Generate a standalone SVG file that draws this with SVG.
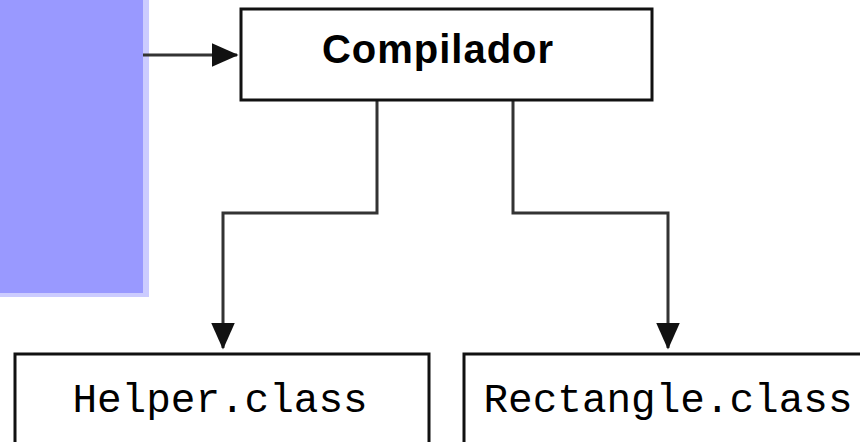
<svg xmlns="http://www.w3.org/2000/svg" width="860" height="442" viewBox="0 0 860 442">
<style>
.box{fill:#ffffff;stroke:#111111;stroke-width:3}
.conn{fill:none;stroke:#333333;stroke-width:3}
.mono{font-family:"Liberation Mono","DejaVu Sans Mono",monospace;font-size:41px;fill:#000}
.bold{font-family:"Liberation Sans",Arial,sans-serif;font-weight:bold;font-size:40px;fill:#000;letter-spacing:1px}
</style>
<defs>
<marker id="ah" markerWidth="9" markerHeight="8" refX="8.5" refY="4" orient="auto" markerUnits="strokeWidth">
<path d="M0,0 L9,4 L0,8 Z" fill="#111111"/>
</marker>
</defs>
<g id="source">
<rect x="0" y="0" width="149" height="297" fill="#ccccff"/>
<rect x="0" y="0" width="143" height="293" fill="#9999ff"/>
</g>
<g id="connectors">
<path class="conn" d="M143,55 H237" marker-end="url(#ah)"/>
<path class="conn" d="M377,100 V213 H223 V348" marker-end="url(#ah)"/>
<path class="conn" d="M513,100 V213 H668 V348" marker-end="url(#ah)"/>
</g>
<g id="compilador">
<rect class="box" x="241" y="9" width="411" height="91"/>
<text class="bold" x="438" y="63" text-anchor="middle">Compilador</text>
</g>
<g id="helper">
<rect class="box" x="15" y="354" width="414" height="100"/>
<text class="mono" x="220" y="412" text-anchor="middle">Helper.class</text>
</g>
<g id="rectangle">
<rect class="box" x="464" y="354" width="420" height="100"/>
<text class="mono" x="668" y="412" text-anchor="middle">Rectangle.class</text>
</g>
</svg>
